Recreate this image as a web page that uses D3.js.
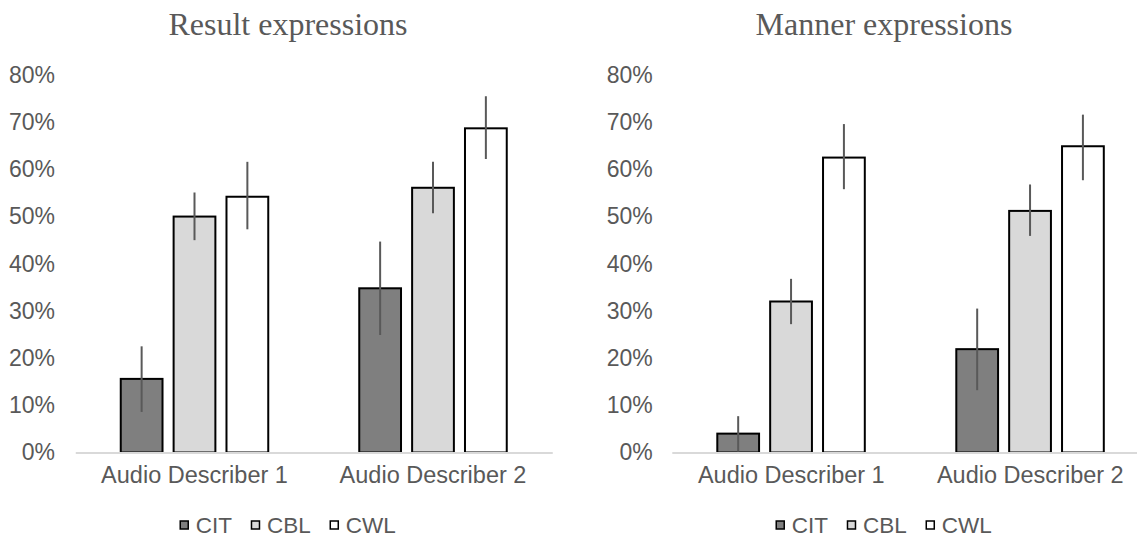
<html>
<head>
<meta charset="utf-8" />
<title>Result and Manner expressions</title>
<script src="https://d3js.org/d3.v7.min.js"></script>
<style>
  body { margin: 0; background: #fff; }
  text { font-family: "Liberation Sans", Arial, sans-serif; fill: #595959; }
  .title { font-family: "Liberation Serif", "Times New Roman", serif; }
</style>
</head>
<body>
<svg id="chart"></svg>
<script>
// categories / series
const categories = ["Audio Describer 1", "Audio Describer 2"];
const series = ["CIT", "CBL", "CWL"];
const seriesFill = ["#7f7f7f", "#d9d9d9", "#ffffff"];
const yTicks = [0, 10, 20, 30, 40, 50, 60, 70, 80];

// Result expressions (percent), with error bar low / high
const resultCIT = [15.6, 34.8];
const resultCBL = [50.0, 56.1];
const resultCWL = [54.2, 68.7];
const resultLow = [[8.6, 24.9], [45.0, 50.7], [47.3, 62.2]];
const resultHigh = [[22.5, 44.7], [55.1, 61.6], [61.6, 75.5]];

// Manner expressions (percent)
const mannerCIT = [4.0, 21.9];
const mannerCBL = [32.0, 51.2];
const mannerCWL = [62.5, 64.9];
const mannerLow = [[0.2, 13.2], [27.2, 45.9], [55.8, 57.7]];
const mannerHigh = [[7.7, 30.5], [36.8, 56.8], [69.6, 71.6]];

const W = 1137, H = 538;
const svg = d3.select("#chart").attr("width", W).attr("height", H);

function drawPanel(title, vals, lows, highs, plotX0, plotX1, centerX, labelX) {
  const g = svg.append("g");
  const y = d3.scaleLinear().domain([0, 80]).range([452.5, 75]);
  const x0 = d3.scaleBand().domain(categories).range([plotX0, plotX1]);
  const x1 = d3.scaleBand().domain(series).range([45.5, 193]).paddingInner(0.21);

  // title
  g.append("text").attr("class", "title")
    .attr("x", centerX).attr("y", 35)
    .attr("text-anchor", "middle")
    .style("font-size", "32px")
    .text(title);

  // y labels
  const yAxis = g.append("g")
    .attr("transform", "translate(" + (labelX + 21) + ",0)")
    .call(d3.axisLeft(y).tickValues(yTicks).tickFormat(d => d + "%").tickSize(0).tickPadding(21));
  yAxis.select(".domain").remove();
  yAxis.selectAll("text").style("font-size", "23px").attr("fill", "#595959");

  // bars
  const rows = [];
  categories.forEach((c, ci) => {
    series.forEach((s, si) => {
      rows.push({ c: c, s: s, si: si, v: vals[si][ci], lo: lows[si][ci], hi: highs[si][ci] });
    });
  });

  g.selectAll("rect.bar").data(rows).enter().append("rect")
    .attr("class", "bar")
    .attr("x", d => x0(d.c) + x1(d.s))
    .attr("width", x1.bandwidth())
    .attr("y", d => y(d.v))
    .attr("height", d => y(0) - y(d.v))
    .attr("fill", d => seriesFill[d.si])
    .attr("stroke", "#000")
    .attr("stroke-width", 2);

  // x axis (baseline + labels)
  const xAxis = g.append("g")
    .attr("transform", "translate(0," + y(0) + ")")
    .call(d3.axisBottom(x0).tickSize(0).tickPadding(14));
  xAxis.select(".domain").attr("stroke", "#d9d9d9").attr("stroke-width", 2);
  xAxis.selectAll("text").style("font-size", "23.5px").attr("fill", "#595959");

  // error bars
  g.selectAll("line.err").data(rows).enter().append("line")
    .attr("class", "err")
    .attr("x1", d => x0(d.c) + x1(d.s) + x1.bandwidth() / 2)
    .attr("x2", d => x0(d.c) + x1(d.s) + x1.bandwidth() / 2)
    .attr("y1", d => y(d.lo))
    .attr("y2", d => y(d.hi))
    .attr("stroke", "#595959")
    .attr("stroke-width", 2);

  // legend
  const leg = g.append("g");
  let items = leg.selectAll("g").data(series).enter().append("g");
  items.append("rect")
    .attr("width", 8).attr("height", 8)
    .attr("y", 521)
    .attr("fill", (d, i) => seriesFill[i])
    .attr("stroke", "#000").attr("stroke-width", 1.5);
  items.append("text")
    .attr("x", 15.5).attr("y", 533)
    .style("font-size", "22.5px")
    .text(d => d);
  let xpos = 0;
  items.each(function () {
    d3.select(this).attr("transform", "translate(" + xpos + ",0)");
    xpos += 15.5 + this.querySelector("text").getComputedTextLength() + 19.5;
  });
  const total = xpos - 19.5;
  leg.attr("transform", "translate(" + (centerX - total / 2) + ",0)");
}

drawPanel("Result expressions", [resultCIT, resultCBL, resultCWL], resultLow, resultHigh, 75.25, 552.25, 288, 55);
drawPanel("Manner expressions", [mannerCIT, mannerCBL, mannerCWL], mannerLow, mannerHigh, 671.8, 1149.8, 884, 652.7);
</script>
</body>
</html>
